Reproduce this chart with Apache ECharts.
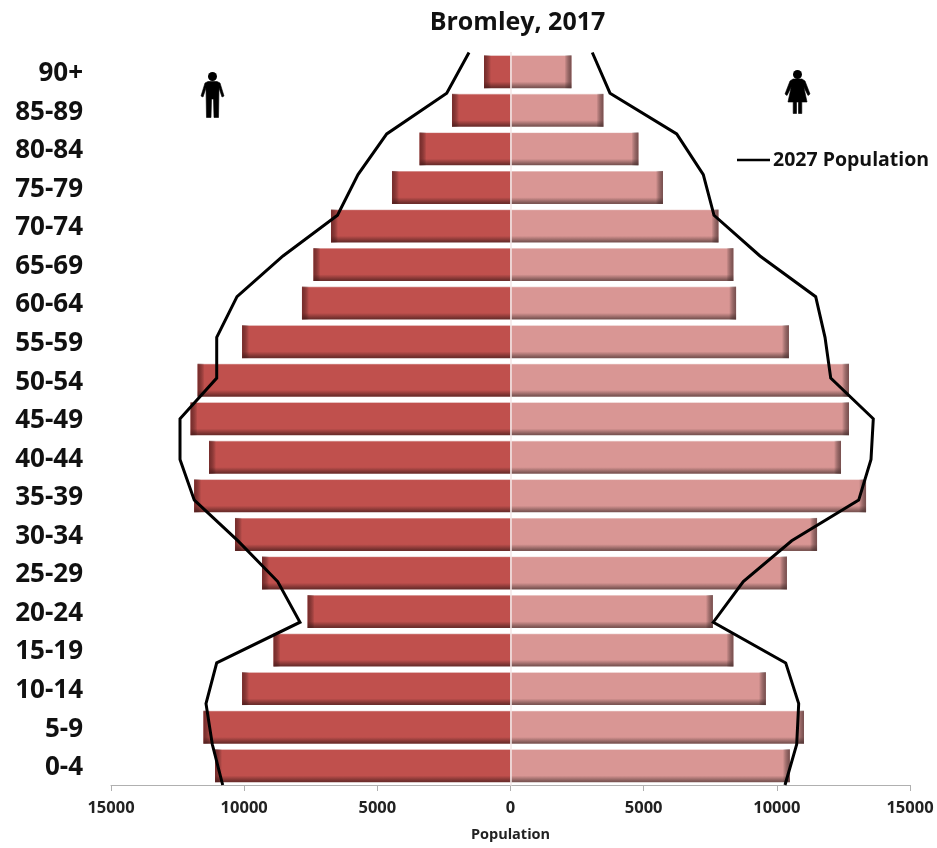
<!DOCTYPE html>
<html>
<head>
<meta charset="utf-8">
<title>Bromley, 2017</title>
<script src="https://cdn.jsdelivr.net/npm/echarts@6/dist/echarts.min.js"></script>
<style>
  html, body { margin: 0; padding: 0; background: #fff; }
  #chart { width: 937px; height: 848px; }
</style>
</head>
<body>
<div id="chart"></div>
<script>
// Age bands, youngest first (the category axis runs bottom to top)
const ageBands = ['0-4','5-9','10-14','15-19','20-24','25-29','30-34','35-39','40-44','45-49','50-54','55-59','60-64','65-69','70-74','75-79','80-84','85-89','90+'];

// 2017 population by age band
const male2017 = [11095,11530,10080,8900,7620,9330,10345,11880,11320,12015,11750,10080,7830,7400,6740,4450,3417,2197,995];
const female2017 = [10490,11020,9590,8370,7600,10380,11510,13350,12410,12710,12710,10455,8470,8370,7810,5725,4805,3490,2290];

// 2027 projection outline
const male2027 = [10806,11197,11433,11031,7904,8741,10232,11872,12409,12409,11031,11031,10269,8542,6496,5726,4648,2395,1558];
const female2027 = [10307,10746,10821,10333,7615,8741,10558,13074,13536,13622,12023,11809,11459,9368,7641,7239,6240,3736,3071];

const xTicks = { min: -15000, max: 15000, step: 5000 };
const FONT = '"Open Sans", "Noto Sans", sans-serif';

const chart = echarts.init(document.getElementById('chart'), null, { renderer: 'canvas' });

// Bars carry a soft dark bevel along their lower edge
function bevelFill(base, light, dark) {
  return new echarts.graphic.LinearGradient(0, 0, 0, 1, [
    { offset: 0, color: light },
    { offset: 0.035, color: base },
    { offset: 0.8, color: base },
    { offset: 0.97, color: dark },
    { offset: 1, color: dark }
  ]);
}

// Darkened strip on the outer end of each bar, placed through the axis scale
function endShade(sign, shadow) {
  return function (params, api) {
    const end = api.coord([api.value(0), api.value(1)]);
    const band = api.size([0, 1])[1];
    const h = band * 0.855;
    const w = 7;
    const x = sign < 0 ? end[0] : end[0] - w;
    return {
      type: 'rect',
      shape: { x: x, y: end[1] - h / 2, width: w, height: h },
      style: {
        fill: new echarts.graphic.LinearGradient(0, 0, 1, 0, sign < 0
          ? [{ offset: 0, color: shadow }, { offset: 1, color: 'rgba(0,0,0,0)' }]
          : [{ offset: 0, color: 'rgba(0,0,0,0)' }, { offset: 1, color: shadow }])
      }
    };
  };
}

// Pictogram built from a round head and a body outline
function figure(x, y, headR, headX, headY, body) {
  return {
    type: 'group',
    x: x,
    y: y,
    silent: true,
    children: [
      { type: 'circle', shape: { cx: headX, cy: headY, r: headR }, style: { fill: '#000' } },
      { type: 'polygon', shape: { points: body }, style: { fill: '#000', stroke: '#000', lineWidth: 0.6, lineJoin: 'round' } }
    ]
  };
}

const manBody = [[7,9.5],[16,9.5],[19,11],[23,24],[21,25],[18,16],[17.5,45.5],[13,45.5],[12.5,27],[10.5,27],[10,45.5],[5.5,45.5],[5,16],[2,25],[0,24],[4,11]];
const womanBody = [[8,9],[17,9],[20,11],[25,24],[23,25.5],[18.8,17],[22,32],[16.8,32],[16.8,43.5],[13.5,43.5],[13.5,32],[11.5,32],[11.5,43.5],[8.2,43.5],[8.2,32],[3,32],[6.2,17],[2,25.5],[0,24],[5,11]];

const outlineStyle = { color: '#000', width: 3, join: 'miter' };

chart.setOption({
  animation: false,
  backgroundColor: '#fff',
  title: {
    text: 'Bromley, 2017',
    left: 512.5,
    top: 5,
    textAlign: 'center',
    textStyle: { fontFamily: FONT, fontSize: 25, fontWeight: 'bold', color: '#111' }
  },
  legend: {
    left: 732,
    top: 145,
    data: [{ name: '2027 Population', icon: 'rect' }],
    itemWidth: 33,
    itemHeight: 2.5,
    itemGap: 0,
    selectedMode: false,
    textStyle: { fontFamily: FONT, fontSize: 19.5, fontWeight: 'bold', color: '#111', padding: [0, 0, 0, -2] }
  },
  grid: { left: 111, right: 27, top: 52.5, bottom: 63 },
  xAxis: {
    type: 'value',
    min: xTicks.min,
    max: xTicks.max,
    interval: xTicks.step,
    name: 'Population',
    nameLocation: 'middle',
    nameGap: 42,
    nameTextStyle: { fontFamily: FONT, fontSize: 14.5, fontWeight: 'bold', color: '#222' },
    axisLine: { show: true, onZero: false, lineStyle: { color: '#b0b0b0', width: 1 } },
    axisTick: { show: true, length: 6, lineStyle: { color: '#b0b0b0' } },
    splitLine: { show: false },
    axisLabel: {
      margin: 15,
      fontFamily: FONT,
      fontSize: 16.5,
      fontWeight: 'bold',
      color: '#222',
      formatter: v => String(Math.abs(v))
    }
  },
  yAxis: [
    {
      type: 'category',
      data: ageBands,
      position: 'left',
      axisLine: { show: false, onZero: false },
      axisTick: { show: false },
      splitLine: { show: false },
      axisLabel: { margin: 28, verticalAlign: 'top', lineHeight: 4, fontFamily: FONT, fontSize: 26, fontWeight: 'bold', color: '#111' }
    },
    {
      // Second band axis: the outline's points sit on its edge-to-edge ticks
      type: 'category',
      data: ageBands,
      boundaryGap: false,
      z: 4,
      axisLine: { show: true, onZero: true, lineStyle: { color: '#f3e6e6', width: 1.5 } },
      axisTick: { show: false },
      axisLabel: { show: false },
      splitLine: { show: false }
    }
  ],
  graphic: [
    figure(201, 72, 4.5, 11.5, 4.5, manBody),
    figure(785, 70, 4.5, 12.5, 4.5, womanBody)
  ],
  series: [
    {
      name: 'Male 2017',
      type: 'bar',
      data: male2017.map(v => -v),
      barWidth: '85.5%',
      barGap: '-100%',
      silent: true,
      itemStyle: { color: bevelFill('#C0504D', '#e6c4c3', '#6e2e2c') }
    },
    {
      name: 'Female 2017',
      type: 'bar',
      data: female2017,
      barWidth: '85.5%',
      barGap: '-100%',
      silent: true,
      itemStyle: { color: bevelFill('#D99694', '#f2dedd', '#7d5654') }
    },
    {
      name: 'Male end shade',
      type: 'custom',
      renderItem: endShade(-1, 'rgba(90,30,30,0.7)'),
      encode: { x: 0, y: 1 },
      data: male2017.map((v, i) => [-v, i]),
      silent: true,
      z: 3
    },
    {
      name: 'Female end shade',
      type: 'custom',
      renderItem: endShade(1, 'rgba(80,50,50,0.7)'),
      encode: { x: 0, y: 1 },
      data: female2017.map((v, i) => [v, i]),
      silent: true,
      z: 3
    },
    {
      name: '2027 Population',
      type: 'line',
      yAxisIndex: 1,
      data: male2027.map((v, i) => [-v, ageBands[i]]),
      symbol: 'none',
      silent: true,
      z: 6,
      itemStyle: { color: '#000' },
      lineStyle: outlineStyle
    },
    {
      name: '2027 Population',
      type: 'line',
      yAxisIndex: 1,
      data: female2027.map((v, i) => [v, ageBands[i]]),
      symbol: 'none',
      silent: true,
      z: 6,
      itemStyle: { color: '#000' },
      lineStyle: outlineStyle
    }
  ]
});
</script>
</body>
</html>
